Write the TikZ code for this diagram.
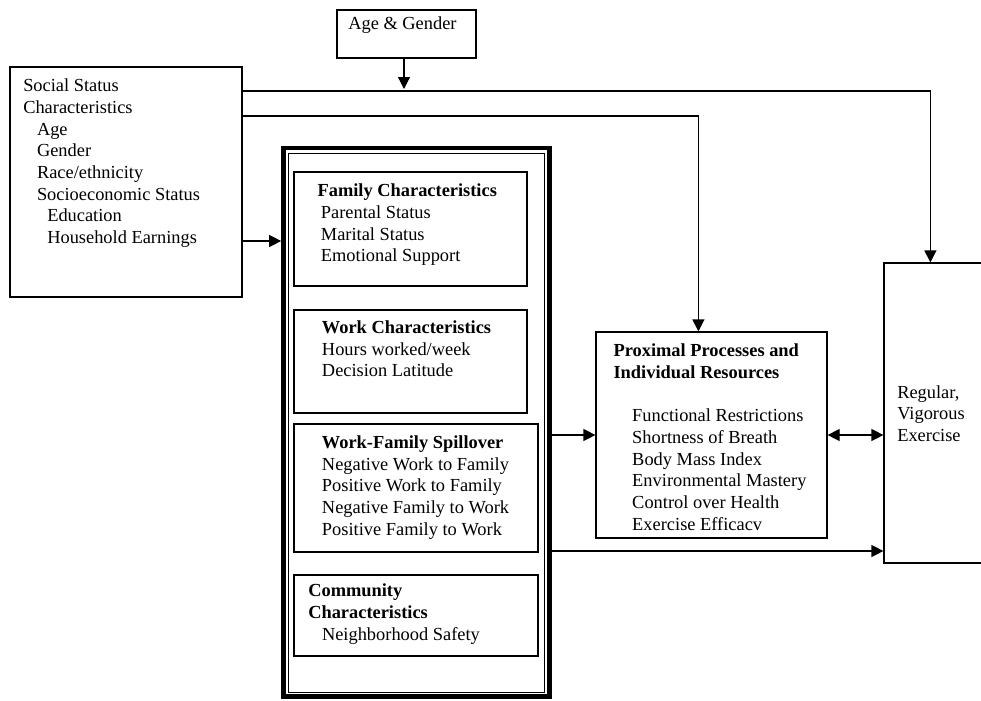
\documentclass[tikz,border=0pt]{standalone}
\usepackage{fontspec}
\setmainfont{Liberation Serif}
\usetikzlibrary{positioning,fit,calc,arrows.meta}

\begin{document}
\begin{tikzpicture}[
    x=0.75pt, y=-0.75pt,
    box/.style={draw=black, line width=0.9pt, inner sep=0pt},
    txt/.style={anchor=north west, inner sep=0pt, align=left, font=\fontsize{13.8}{16.25}\selectfont},
    arrow/.style={-{Triangle[length=9pt,width=9pt]}, line width=0.9pt}
]
\path[use as bounding box, clip] (0,0) rectangle (981,700);

% Boxes
\node[box, fit={(10,67) (242,297)}] (social) {};
\node[box, fit={(337,10) (476,58)}] (age) {};
\node[box, line width=3.5pt, fit={(283.5,148) (549.5,696.5)}] (block) {};
\node[box, line width=0.7pt, fit={(288.5,153.5) (544.5,692)}] (blockin) {};
\node[box, fit={(294,172) (527,286)}] (family) {};
\node[box, fit={(294,310) (527,413)}] (work) {};
\node[box, fit={(294,424) (538,552)}] (spill) {};
\node[box, fit={(294,575) (538,656)}] (comm) {};
\node[box, fit={(596,332) (827,538)}] (prox) {};
\node[box, fit={(884,263) (1000,563)}] (exer) {};

% Text
\node[txt] (agetxt) at (348,13.8) {\strut Age \& Gender};
\node[txt] (socialtxt) at (23,76.5) {\strut Social Status\\Characteristics\\
    \hspace*{10.3pt}Age\\\hspace*{10.3pt}Gender\\\hspace*{10.3pt}Race/ethnicity\\
    \hspace*{10.3pt}Socioeconomic Status\\\hspace*{18pt}Education\\\hspace*{18pt}Household Earnings};
\node[txt] (familytxt) at (317.3,181.5) {\strut\textbf{Family Characteristics}\\
    \hspace*{2.5pt}Parental Status\\\hspace*{2.5pt}Marital Status\\\hspace*{2.5pt}Emotional Support};
\node[txt] (worktxt) at (321.7,318.1) {\strut\textbf{Work Characteristics}\\
    Hours worked/week\\Decision Latitude};
\node[txt] (spilltxt) at (321.7,433.1) {\strut\textbf{Work-Family Spillover}\\
    Negative Work to Family\\Positive Work to Family\\Negative Family to Work\\Positive Family to Work};
\node[txt] (commtxt) at (308,581.5) {\strut\textbf{Community}\\\textbf{Characteristics}\\
    \hspace*{10.3pt}Neighborhood Safety};
\node[txt] (proxtxt) at (613.3,341.5) {\strut\textbf{Proximal Processes and}\\\textbf{Individual Resources}\\[16.25pt]
    \hspace*{14pt}Functional Restrictions\\\hspace*{14pt}Shortness of Breath\\\hspace*{14pt}Body Mass Index\\
    \hspace*{14pt}Environmental Mastery\\\hspace*{14pt}Control over Health\\\hspace*{14pt}Exercise Efficacv};
\node[txt] (exertxt) at (897,382.8) {\strut Regular,\\Vigorous\\Exercise};

\coordinate (exertop) at ($(exer.north west)+(47,0)$);
\coordinate (proxtop) at ($(prox.north west)+(103,0)$);

% Arrows
\draw[arrow] (age.south -| 404,0) -- (404,89);
\draw[arrow] (social.east |- 0,91) -| (exertop);
\draw[arrow] (social.east |- 0,116) -| (proxtop);
\draw[arrow] (social.east |- 0,241) -- (block.west |- 0,241);
\draw[arrow] (block.east |- 0,435) -- (prox.west |- 0,435);
\draw[arrow] (block.east |- 0,551) -- (exer.west |- 0,551);
\draw[arrow, {Triangle[length=9pt,width=9pt]}-{Triangle[length=9pt,width=9pt]}] (prox.east |- 0,435) -- (exer.west |- 0,435);

\end{tikzpicture}
\end{document}
